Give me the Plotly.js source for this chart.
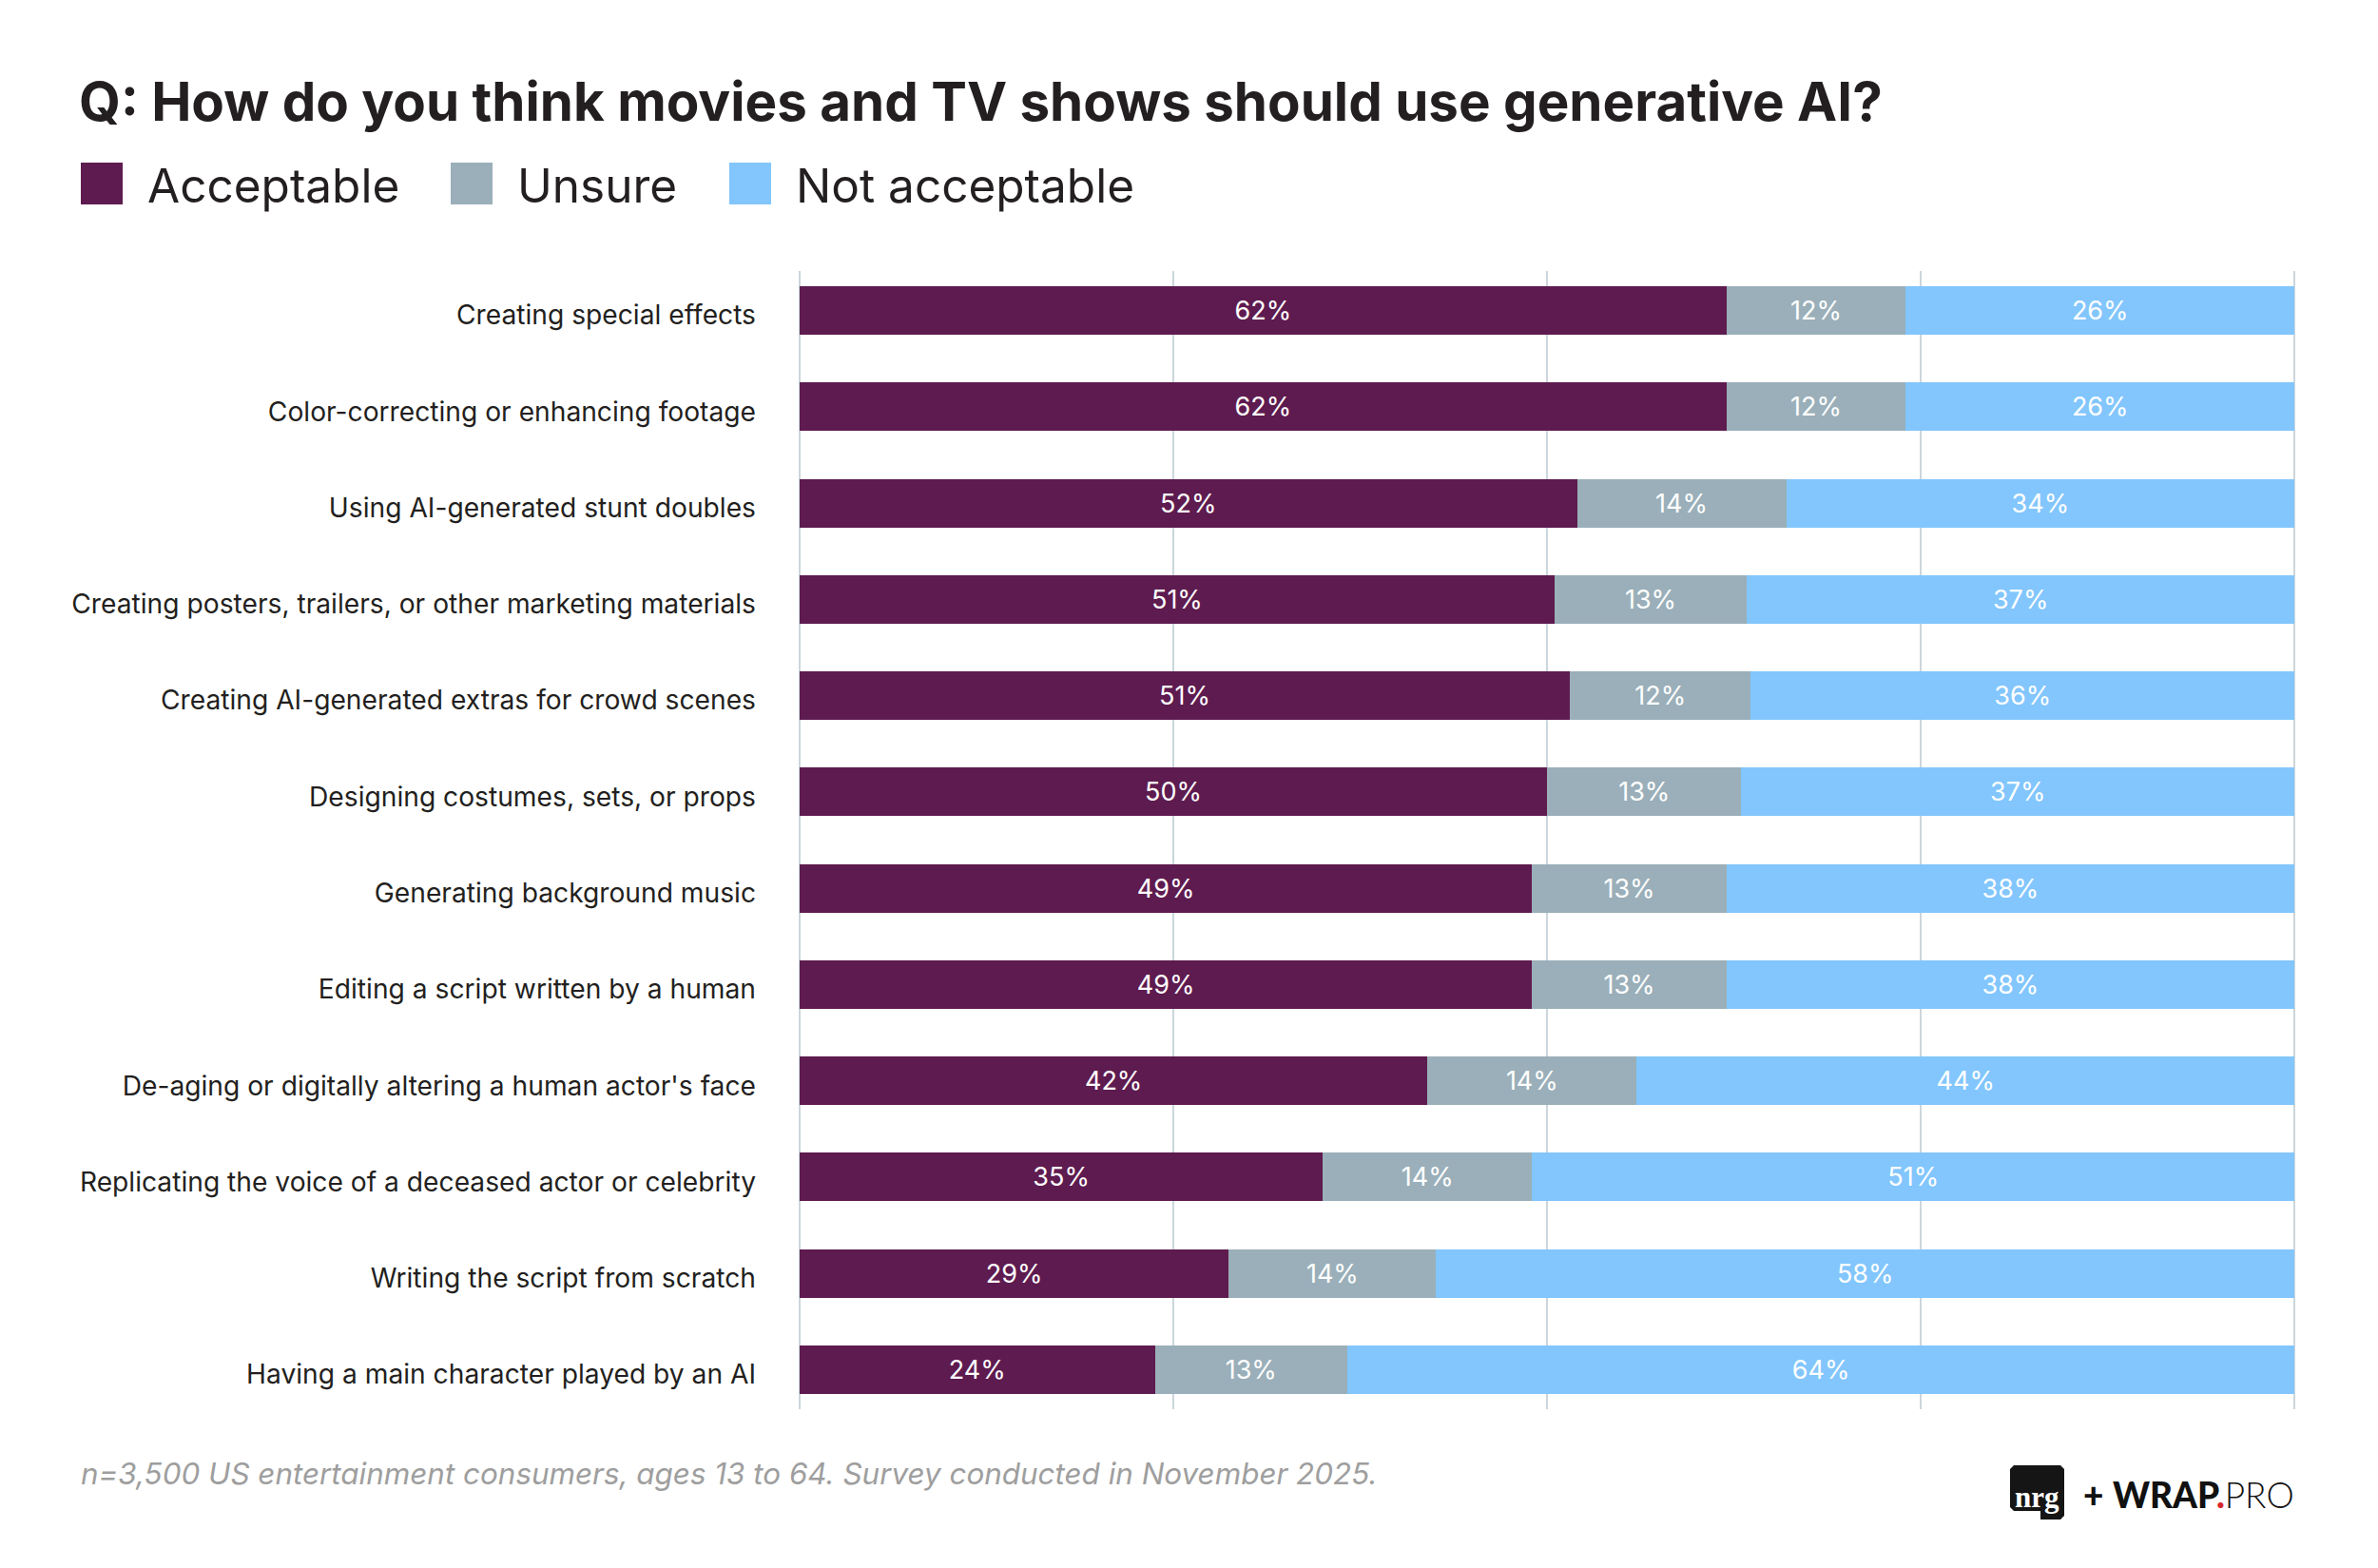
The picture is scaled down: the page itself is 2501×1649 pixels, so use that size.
<!DOCTYPE html>
<html>
<head>
<meta charset="utf-8">
<script src="https://cdn.plot.ly/plotly-3.0.1.min.js"></script>
<style>
  body { margin: 0; background: #ffffff; }
  #chart { width: 2501px; height: 1649px; }
</style>
</head>
<body>
<div id="chart"></div>
<script>
// survey answers, top row first
const categories = [
    "Creating special effects",
    "Color-correcting or enhancing footage",
    "Using AI-generated stunt doubles",
    "Creating posters, trailers, or other marketing materials",
    "Creating AI-generated extras for crowd scenes",
    "Designing costumes, sets, or props",
    "Generating background music",
    "Editing a script written by a human",
    "De-aging or digitally altering a human actor's face",
    "Replicating the voice of a deceased actor or celebrity",
    "Writing the script from scratch",
    "Having a main character played by an AI"
];
const acceptable    = [62, 62, 52, 51, 51, 50, 49, 49, 42, 35, 29, 24];
const unsure        = [12, 12, 14, 13, 12, 13, 13, 13, 14, 14, 14, 13];
const notAcceptable = [26, 26, 34, 37, 36, 37, 38, 38, 44, 51, 58, 64];

const seriesNames = ["Acceptable", "Unsure", "Not acceptable"];
const seriesColors = ["#5e1b4f", "#9aafb9", "#82c6fd"];

const W = 2501, H = 1649;
// x range runs a little past 100 so the 100% gridline is kept
const X_MAX = 100.5;
const PLOT_L = 841, PLOT_T = 285, PLOT_B = 1482;
const PLOT_R = PLOT_L + Math.round(1572 * X_MAX / 100);
const FONT = "Inter, 'Noto Sans', sans-serif";
const DARK = "#231f20";

// pixel -> paper helpers for the decorations around the plot
function px(x) { return (x - PLOT_L) / (PLOT_R - PLOT_L); }
function py(y) { return (PLOT_B - y) / (PLOT_B - PLOT_T); }

function makeTrace(i, values) {
    return {
        type: 'bar',
        orientation: 'h',
        name: seriesNames[i],
        y: categories,
        x: values,
        text: values.map(v => v + '%'),
        textposition: 'inside',
        insidetextanchor: 'middle',
        textangle: 0,
        textfont: { family: FONT, size: 27, color: '#ffffff' },
        marker: { color: seriesColors[i], line: { width: 0 } },
        hoverinfo: 'skip'
    };
}

let data = [
    makeTrace(0, acceptable),
    makeTrace(1, unsure),
    makeTrace(2, notAcceptable)
];

// legend drawn by hand (big squares)
let shapes = [];
let annotations = [];
const legendX = [85, 474, 767];
for (let i = 0; i < seriesNames.length; i++) {
    shapes.push({
        type: 'rect', xref: 'paper', yref: 'paper',
        x0: px(legendX[i]), x1: px(legendX[i] + 44),
        y0: py(215), y1: py(171),
        fillcolor: seriesColors[i], line: { width: 0 }
    });
    annotations.push({
        xref: 'paper', yref: 'paper',
        x: px(legendX[i] + 68), y: py(195),
        xanchor: 'left', yanchor: 'middle',
        text: seriesNames[i], showarrow: false,
        font: { family: FONT, size: 49.5, color: DARK }
    });
}

// footnote
annotations.push({
    xref: 'paper', yref: 'paper',
    x: px(83), y: py(1550),
    xanchor: 'left', yanchor: 'middle',
    text: '<i>n=3,500 US entertainment consumers, ages 13 to 64. Survey conducted in November 2025.</i>',
    showarrow: false,
    font: { family: FONT, size: 31.4, color: '#9e9e9e' }
});

// nrg logo box with tab at the bottom right
let p = [
    [2118, 1541], [2167, 1541], [2171, 1545], [2171, 1594], [2167, 1598],
    [2146, 1598], [2146, 1589], [2118, 1589], [2114, 1585], [2114, 1545]
];
let path = 'M ' + p.map(q => px(q[0]) + ',' + py(q[1])).join(' L ') + ' Z';
shapes.push({
    type: 'path', xref: 'paper', yref: 'paper', path: path,
    fillcolor: '#151515', line: { width: 0 }
});
annotations.push({
    xref: 'paper', yref: 'paper',
    x: px(2142), y: py(1574),
    xanchor: 'center', yanchor: 'middle',
    text: '<b>nrg</b>', showarrow: false,
    font: { family: "'Liberation Serif', 'DejaVu Serif', serif", size: 31, color: '#ffffff' }
});
annotations.push({
    xref: 'paper', yref: 'paper',
    x: px(2415), y: py(1571),
    xanchor: 'right', yanchor: 'middle',
    text: "<span style='font-weight:900'>+</span> <span style='font-weight:900'>WRAP</span><span style='font-weight:900;fill:#d7262d'>.</span><span style='font-weight:300'>PRO</span>",
    showarrow: false,
    font: { family: "Lato, sans-serif", size: 37, color: '#111111' }
});

let layout = {
    width: W,
    height: H,
    paper_bgcolor: '#ffffff',
    plot_bgcolor: '#ffffff',
    margin: { l: PLOT_L, r: W - PLOT_R, t: PLOT_T, b: H - PLOT_B, pad: 0 },
    barmode: 'stack',
    barnorm: 'percent',
    bargap: 0.497,
    showlegend: false,
    title: {
        text: 'Q: How do you think movies and TV shows should use generative AI?',
        font: { family: FONT, size: 56.5, weight: 700, color: DARK },
        xref: 'container', yref: 'container',
        x: 83 / W, xanchor: 'left',
        y: 1 - 107 / H, yanchor: 'middle'
    },
    xaxis: {
        range: [0, X_MAX],
        tickvals: [0, 25, 50, 75, 100],
        showgrid: true,
        gridcolor: '#ccd6dc',
        gridwidth: 1.5,
        zeroline: true,
        zerolinecolor: '#ccd6dc',
        zerolinewidth: 1.5,
        showticklabels: false,
        showline: false,
        fixedrange: true
    },
    yaxis: {
        type: 'category',
        range: [11.41, -0.41],
        showgrid: false,
        zeroline: false,
        showline: false,
        ticks: '',
        ticklabelstandoff: 45,
        ticklabelshift: -5,
        tickfont: { family: FONT, size: 28.2, color: DARK },
        fixedrange: true
    },
    shapes: shapes,
    annotations: annotations,
    font: { family: FONT }
};

Plotly.newPlot('chart', data, layout, { displayModeBar: false, staticPlot: true });
</script>
</body>
</html>
